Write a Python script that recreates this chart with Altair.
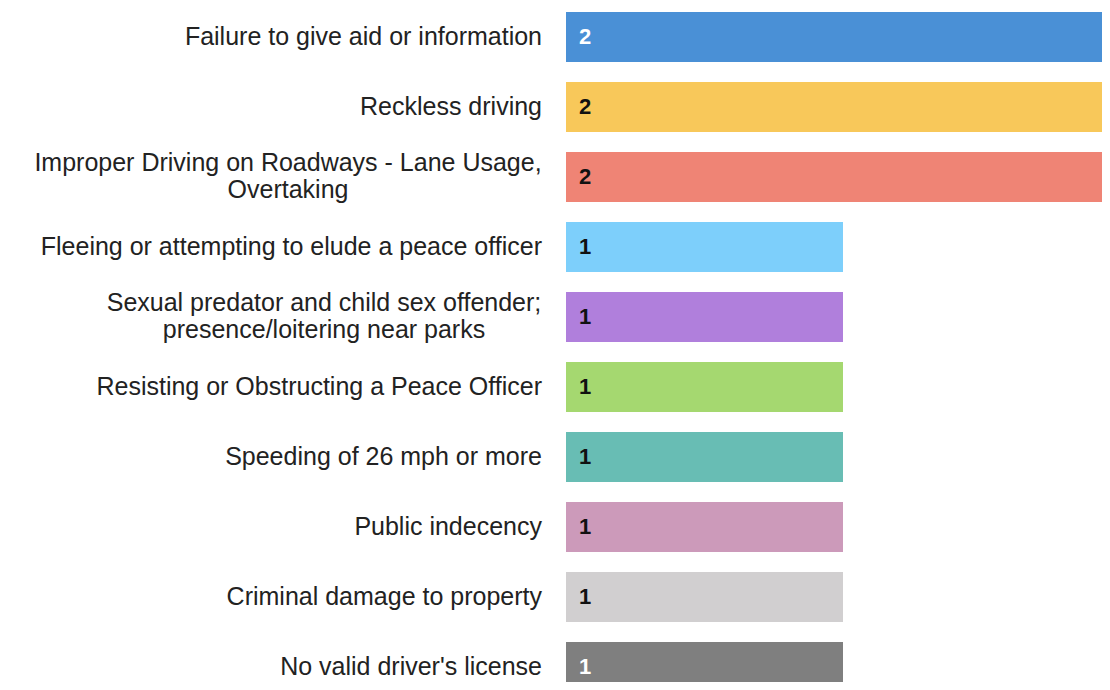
import altair as alt
import pandas as pd

categories = [
    "Failure to give aid or information",
    "Reckless driving",
    "Improper Driving on Roadways - Lane Usage,\nOvertaking",
    "Fleeing or attempting to elude a peace officer",
    "Sexual predator and child sex offender;\npresence/loitering near parks",
    "Resisting or Obstructing a Peace Officer",
    "Speeding of 26 mph or more",
    "Public indecency",
    "Criminal damage to property",
    "No valid driver's license",
]
counts = [2, 2, 2, 1, 1, 1, 1, 1, 1, 1]
bar_colors = ["#4a90d6", "#f8c85a", "#ef8475", "#7dcffb", "#b07fdc",
              "#a5d870", "#68bdb4", "#cc9aba", "#d1cfd0", "#7f7f7f"]
value_colors = ["#ffffff", "#111111", "#111111", "#111111", "#111111",
                "#111111", "#111111", "#111111", "#111111", "#ffffff"]

df = pd.DataFrame({
    "category": categories,
    "count": counts,
    "color": bar_colors,
    "vcolor": value_colors,
    "multi": ["\n" in c for c in categories],
})

FONT = "Liberation Sans"
LABEL_SIZE = 25
LINE_H = 27

y_enc = alt.Y("category:N", sort=categories, axis=None,
              scale=alt.Scale(paddingInner=0.286, paddingOuter=0, range=[4, 684]))
x_scale = alt.Scale(domain=[0, 2], range=[0, 554])

base = alt.Chart(df)

bars = base.mark_bar().encode(
    x=alt.X("count:Q", scale=x_scale, axis=None),
    y=y_enc,
    color=alt.Color("color:N", scale=None),
)

values = base.mark_text(align="left", baseline="middle", font=FONT,
                        fontSize=22, fontWeight="bold").encode(
    x=alt.value(13),
    y=y_enc,
    text=alt.Text("count:Q"),
    color=alt.Color("vcolor:N", scale=None),
)

single_labels = base.mark_text(align="right", baseline="middle", font=FONT,
                               fontSize=LABEL_SIZE, color="#222222").encode(
    x=alt.value(-24),
    y=y_enc,
    text="category:N",
).transform_filter("!datum.multi")

multi_centers = {categories[2]: -278, categories[4]: -242}
multi_layers = []
for cat, cx in multi_centers.items():
    multi_layers.append(
        base.mark_text(align="center", baseline="middle", font=FONT,
                       fontSize=LABEL_SIZE, lineBreak="\n", lineHeight=LINE_H,
                       dy=-LINE_H / 2, color="#222222").encode(
            x=alt.value(cx),
            y=y_enc,
            text="category:N",
        ).transform_filter(alt.datum.category == cat)
    )

chart = alt.layer(bars, values, single_labels, *multi_layers).properties(
    width=536,
    height=674,
    autosize=alt.AutoSizeParams(type="none"),
    padding={"left": 558, "top": 0, "right": 0, "bottom": 0},
).configure_view(stroke=None)

chart.save("out.html", embed_options={"renderer": "svg", "actions": False})
